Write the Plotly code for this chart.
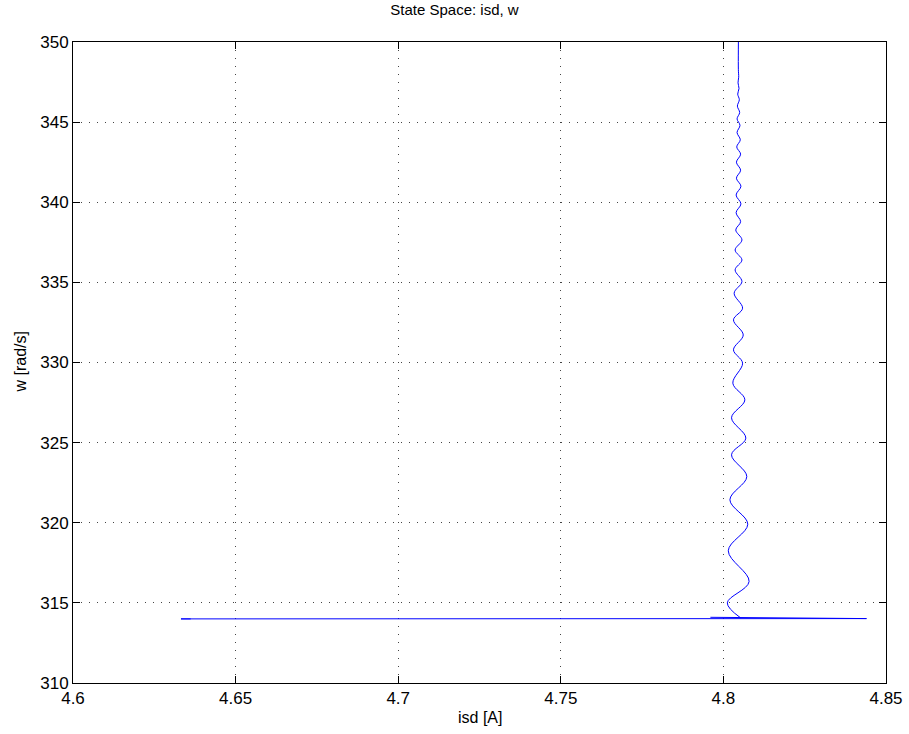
import plotly.graph_objects as go

# Horizontal (fast electrical) part of the trajectory
isd_fast = [4.7960, 4.8060, 4.8440, 4.6332, 4.6362]
w_fast = [314.10, 314.08, 314.02, 314.00, 314.00]

# Oscillating part: extrema, bottom to top
isd_osc = [4.8052, 4.8012, 4.8079, 4.8015, 4.8075, 4.8020, 4.8072, 4.8025, 4.8069,
           4.8025, 4.8066, 4.8029, 4.8059, 4.8031, 4.8061, 4.8031, 4.8059, 4.8033,
           4.8057, 4.8036, 4.8057, 4.8036, 4.8057, 4.8038, 4.8053, 4.8039, 4.8054,
           4.8039, 4.8054, 4.8040, 4.8053, 4.8040, 4.8053, 4.8041, 4.8052, 4.8042,
           4.8051, 4.8042, 4.8050, 4.8043, 4.8049, 4.8044, 4.8048, 4.8045, 4.8047,
           4.8046, 4.8047]
w_osc = [314.08, 315.00, 316.33, 318.25, 319.91, 321.43, 322.88, 324.24, 325.28,
         326.55, 327.67, 328.71, 329.96, 330.79, 331.72, 332.66, 333.39, 334.32,
         335.05, 335.78, 336.40, 337.02, 337.65, 338.27, 338.79, 339.35, 339.90,
         340.45, 341.00, 341.50, 342.00, 342.50, 343.00, 343.45, 343.90, 344.35,
         344.80, 345.20, 345.60, 346.00, 346.40, 346.75, 347.10, 347.45, 347.80,
         348.30, 352.00]

x_ticks = [4.6, 4.65, 4.7, 4.75, 4.8, 4.85]
x_tick_labels = ["4.6", "4.65", "4.7", "4.75", "4.8", "4.85"]
y_ticks = [310, 315, 320, 325, 330, 335, 340, 345, 350]
y_tick_labels = ["310", "315", "320", "325", "330", "335", "340", "345", "350"]

FONT = "Liberation Sans, Arial, Helvetica, sans-serif"

fig = go.Figure()
fig.add_trace(go.Scatter(x=isd_fast, y=w_fast, mode="lines",
                         line=dict(color="#0000ff", width=1), showlegend=False))
fig.add_trace(go.Scatter(x=isd_osc, y=w_osc, mode="lines",
                         line=dict(color="#0000ff", width=1, shape="spline", smoothing=1.0),
                         showlegend=False))

axis_common = dict(
    showline=True, linecolor="black", linewidth=1, mirror="allticks",
    ticks="inside", ticklen=7, tickcolor="black", tickwidth=1,
    showgrid=True, gridcolor="#444444", gridwidth=1, griddash="1px,7px",
    zeroline=False, automargin=False,
    tickfont=dict(family=FONT, size=17, color="black"),
)

fig.update_xaxes(range=[4.6, 4.85], tickvals=x_ticks, ticktext=x_tick_labels, **axis_common)
fig.update_yaxes(range=[310, 350], tickvals=y_ticks, ticktext=y_tick_labels, **axis_common)

fig.update_layout(
    width=909, height=734,
    margin=dict(l=73, r=23, t=42, b=51),
    paper_bgcolor="white", plot_bgcolor="white",
    title=dict(text="State Space: isd, w", x=0.5, xanchor="center",
               y=1 - 10 / 734, yanchor="middle", yref="container",
               font=dict(family=FONT, size=15, color="black")),
    annotations=[
        dict(text="isd [A]", xref="paper", yref="paper", x=0.5, y=-(718 - 683) / 641,
             showarrow=False, xanchor="center", yanchor="middle",
             font=dict(family=FONT, size=16, color="black")),
        dict(text="w [rad/s]", xref="paper", yref="paper", x=0.0, xshift=-53, y=0.5,
             showarrow=False, xanchor="center", yanchor="middle", textangle=-90,
             font=dict(family=FONT, size=16, color="black")),
    ],
)

fig.write_html("out.html")
